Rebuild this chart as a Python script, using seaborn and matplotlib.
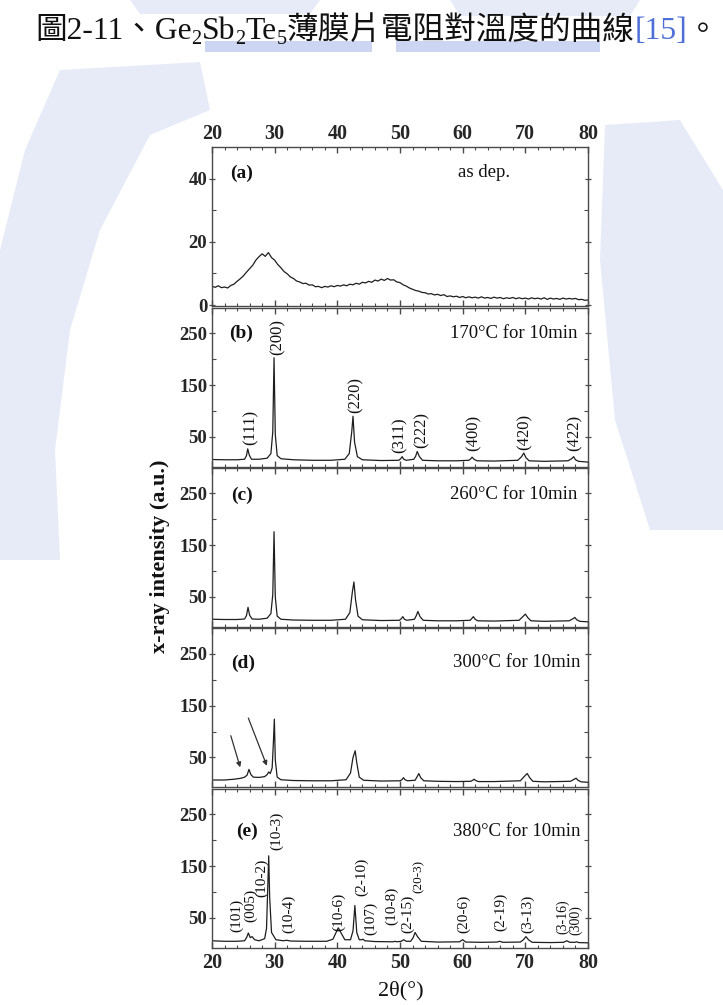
import numpy as np
import pandas as pd
import matplotlib
matplotlib.use("Agg")
import matplotlib.pyplot as plt
import seaborn as sns
from matplotlib.ticker import MultipleLocator, FixedLocator
from matplotlib.patches import Polygon, Rectangle

sns.set_style("ticks")
plt.rcParams["font.family"] = ["Liberation Serif", "Noto Sans CJK TC", "DejaVu Sans"]

# ---------------- data ----------------
# (a) as deposited
a_x = [20, 20.5, 21, 21.5, 22, 22.5, 23, 23.5, 24, 24.5, 25, 25.5, 26, 26.5, 27, 27.5, 28, 28.5, 29, 29.5,
       30, 30.5, 31, 31.5, 32, 32.5, 33, 33.5, 34, 34.5, 35, 35.5, 36, 36.5, 37, 37.5, 38, 38.5, 39, 39.5,
       40, 40.5, 41, 41.5, 42, 42.5, 43, 43.5, 44, 44.5, 45, 45.5, 46, 46.5, 47, 47.5, 48, 48.5, 49, 49.5,
       50, 50.5, 51, 51.5, 52, 52.5, 53, 53.5, 54, 54.5, 55, 55.5, 56, 56.5, 57, 57.5, 58, 58.5, 59, 59.5,
       60, 60.5, 61, 61.5, 62, 62.5, 63, 63.5, 64, 64.5, 65, 65.5, 66, 66.5, 67, 67.5, 68, 68.5, 69, 69.5,
       70, 70.5, 71, 71.5, 72, 72.5, 73, 73.5, 74, 74.5, 75, 75.5, 76, 76.5, 77, 77.5, 78, 78.5, 79, 79.5, 80]
a_y = [6.0, 5.6, 6.1, 5.5, 5.7, 5.4, 6.2, 6.6, 7.5, 8.3, 9.2, 10.4, 11.5, 12.6, 14.2, 15.3, 16.2, 15.4, 16.6, 15.0,
       14.2, 12.8, 11.8, 10.6, 9.9, 8.9, 8.4, 7.6, 7.3, 6.8, 6.9, 6.3, 6.4, 5.8, 5.9, 5.5, 5.9, 5.7, 6.1, 5.8,
       6.2, 6.0, 6.4, 6.1, 6.6, 6.4, 6.9, 6.6, 7.2, 7.0, 7.5, 7.2, 7.9, 7.6, 8.2, 7.8, 8.4, 7.9, 8.0, 7.3,
       7.1, 6.4, 6.0, 5.4, 5.0, 4.6, 4.4, 4.0, 3.9, 3.5, 3.6, 3.2, 3.4, 3.0, 3.3, 2.7, 2.9, 2.6, 2.8, 2.4,
       2.7, 2.3, 2.6, 2.3, 2.5, 2.2, 2.6, 2.2, 2.4, 2.1, 2.5, 2.2, 2.4, 2.0, 2.3, 2.1, 2.4, 2.0, 2.3, 2.0,
       2.2, 1.9, 2.3, 2.0, 2.2, 1.9, 2.3, 1.8, 2.2, 1.9, 2.1, 1.8, 2.2, 1.9, 2.1, 1.9, 2.1, 1.7, 1.8, 1.5, 1.6]

# (b) 170 C
b_x = [20, 22, 24, 25.2, 25.5, 25.7, 25.95, 26.3, 27.5, 28.8, 29.4, 29.7, 29.9, 30.1, 30.4, 31.0, 33, 36, 39,
       41.2, 41.9, 42.3, 42.5, 42.75, 43.2, 44, 47, 49.8, 50.1, 50.35, 50.6, 51.0, 52.2, 52.5, 52.75, 53.1,
       53.6, 56, 59, 61.0, 61.3, 61.5, 61.8, 62.3, 65, 68.8, 69.4, 69.75, 70.1, 70.6, 73, 76.8, 77.4, 77.7,
       78.0, 78.5, 80]
b_y = [6.5, 6, 6, 7, 14, 27, 15, 7, 7, 9, 18, 60, 203, 55, 14, 8, 6, 5, 5,
       7, 18, 60, 90, 40, 12, 6, 4.5, 5, 8, 12, 7, 5, 7, 13, 22, 12,
       5, 4, 4, 5, 8, 11, 7, 4, 3.5, 5, 12, 19, 10, 4, 3, 4, 8, 12,
       6, 3, 1.5]

# (c) 260 C
c_x = [20, 22, 24, 25.2, 25.5, 25.75, 26.0, 26.4, 27.5, 28.8, 29.4, 29.7, 29.9, 30.1, 30.4, 31.0, 33, 36, 39,
       41.3, 42.0, 42.4, 42.65, 42.9, 43.3, 44, 47, 49.9, 50.2, 50.45, 50.7, 51.1, 52.3, 52.6, 52.85, 53.2,
       53.7, 56, 59, 61.2, 61.5, 61.7, 62.0, 62.4, 65, 69.0, 69.6, 70.0, 70.4, 70.9, 73, 77.0, 77.6, 77.9,
       78.2, 78.7, 80]
c_y = [7, 6.5, 6.5, 7.5, 14, 30, 15, 7.5, 7, 9, 18, 55, 176, 50, 13, 7, 5.5, 5, 5,
       7, 20, 60, 79, 45, 13, 6, 4.5, 5, 8, 12, 7, 5, 7, 14, 22, 12,
       5, 4, 4, 5, 9, 12, 7, 4, 3.5, 5, 12, 17, 10, 4, 3, 4, 8, 10.5,
       6, 3, 2]

# (d) 300 C
d_x = [20, 22, 23.5, 24.4, 24.8, 25.2, 25.6, 25.9, 26.2, 26.6, 27.5, 28.4, 28.8, 29.05, 29.3, 29.6, 29.8,
       29.95, 30.1, 30.4, 31.0, 33, 36, 39, 41.4, 42.1, 42.5, 42.85, 43.1, 43.5, 44.2, 47, 50.0, 50.3, 50.55,
       50.8, 51.2, 52.4, 52.7, 53.0, 53.3, 53.8, 56, 59, 61.3, 61.6, 61.8, 62.1, 62.5, 65, 69.2, 69.8, 70.3,
       70.7, 71.2, 73, 77.2, 77.8, 78.1, 78.4, 78.9, 80]
d_y = [6.5, 6.5, 8, 9.5, 10.5, 12, 16, 27, 17, 12, 11.5, 13, 17, 22, 19, 30, 80,
       124, 45, 12, 7, 5.5, 5, 5, 7, 20, 50, 63, 40, 12, 6, 4.5, 5, 7, 11,
       7, 5, 6, 12, 19, 11, 5, 4, 3.5, 4, 6, 8, 5.5, 3.5, 3.5, 5, 13, 19,
       11, 4, 3, 4, 8, 10, 6, 3, 2]

# (e) 380 C
e_x = [20, 22, 24, 25.2, 25.55, 25.8, 26.1, 26.4, 26.8, 27.5, 28.4, 28.7, 28.9, 29.05, 29.2, 29.5, 30.2, 31.4,
       31.9, 32.5, 35, 38.3, 39.3, 39.8, 40.15, 40.6, 41.2, 42.1, 42.5, 42.8, 43.1, 43.5, 43.9, 44.1, 44.4,
       46, 48.9, 49.2, 49.5, 50.2, 50.6, 51.0, 51.7, 52.1, 52.4, 52.8, 53.4, 56, 59.5, 60.0, 60.5, 63, 65.5,
       65.9, 66.4, 69.2, 69.7, 70.1, 70.5, 71.1, 74, 76.1, 76.6, 77.1, 77.9, 78.2, 78.5, 80]
e_y = [6, 5, 5, 6, 13, 21, 12, 14, 8, 6, 10, 30, 110, 170, 90, 22, 8, 6,
       7, 5.5, 5, 5, 9, 22, 31, 21, 8, 8, 25, 74, 22, 8, 8, 9, 6,
       4.5, 4, 5, 4, 5, 8, 5, 5, 12, 22, 14, 5, 3.5, 4, 8, 3.5, 3, 3.5,
       5, 3, 3.5, 8, 14, 8, 3, 2.5, 3, 6, 3, 3, 4, 2.5, 2]

panel_tags = ["(a)", "(b)", "(c)", "(d)", "(e)"]
panel_conditions = ["as dep.", "170\u00b0C for 10min", "260\u00b0C for 10min",
                    "300\u00b0C for 10min", "380\u00b0C for 10min"]

b_labels = ["(111)", "(200)", "(220)", "(311)", "(222)", "(400)", "(420)", "(422)"]
b_label_x = [26.1, 30.5, 42.9, 50.0, 53.4, 61.8, 69.9, 77.8]
b_label_y = [34, 208, 96, 19, 28, 22, 25, 22]

e_labels = ["(101)", "(005)", "(10-2)", "(10-3)", "(10-4)", "(10-6)", "(2-10)", "(107)", "(10-8)",
            "(2-15)", "(20-3)", "(20-6)", "(2-19)", "(3-13)", "(3-16)", "(300)"]
e_label_x = [24.0, 26.2, 27.9, 30.25, 32.2, 40.2, 43.95, 45.3, 48.6, 51.15, 53.0, 60.2, 66.1, 70.35, 75.9, 78.0]
e_label_y = [22, 42, 90, 182, 21, 24, 92, 18, 37, 21, 98, 21, 24, 21, 20, 17]

xticks = [20, 30, 40, 50, 60, 70, 80]

# ---------------- figure ----------------
W, H = 723, 1005
fig = plt.figure(figsize=(W / 100, H / 100), dpi=100)
fig.patch.set_facecolor("white")


def px(x, y):
    return (x / W, 1 - y / H)


# faint background watermark (pale blue blocks)
wm = "#e7ebf8"
wm2 = "#ccd5f2"
wm_shapes = [
    [(60, 70), (200, 62), (210, 110), (150, 135), (100, 230), (70, 330), (55, 450), (60, 560), (0, 560),
     (0, 250), (25, 150)],
    [(605, 125), (680, 120), (723, 190), (723, 530), (650, 530), (615, 420), (600, 260)],
    [(130, 0), (320, 0), (310, 14), (140, 14)],
    [(450, 0), (640, 0), (630, 16), (460, 16)],
]
for pts in wm_shapes:
    fig.patches.append(Polygon([px(*p) for p in pts], closed=True, transform=fig.transFigure,
                               facecolor=wm, edgecolor="none", zorder=0))
for (x0, x1) in [(205, 372), (396, 600)]:
    fig.patches.append(Rectangle(px(x0, 52), (x1 - x0) / W, 11 / H, transform=fig.transFigure,
                                 facecolor=wm2, edgecolor="none", zorder=0))

left = 212 / W
width = 376 / W
tops = [147, 307.5, 467.5, 628, 788.5]
ph = 159.0

series = [(a_x, a_y), (b_x, b_y), (c_x, c_y), (d_x, d_y), (e_x, e_y)]
line_col = "#1e1e1e"
spine_col = "#4a4a4a"
axes = []
for i, (xs, ys) in enumerate(series):
    ax = fig.add_axes([left, 1 - (tops[i] + ph) / H, width, ph / H])
    axes.append(ax)
    df = pd.DataFrame({"two_theta": xs, "intensity": ys})
    sns.lineplot(data=df, x="two_theta", y="intensity", ax=ax, color=line_col,
                 linewidth=0.9, estimator=None, sort=False)
    ax.set_xlim(20, 80)
    ax.set_xlabel("")
    ax.set_ylabel("")
    for sp in ax.spines.values():
        sp.set_visible(True)
        sp.set_color(spine_col)
        sp.set_linewidth(1.0)
    ax.xaxis.set_major_locator(FixedLocator(xticks))
    ax.xaxis.set_minor_locator(MultipleLocator(2))
    ax.tick_params(axis="x", which="major", direction="in", top=True, bottom=True,
                   length=4.5, width=1.0, color=spine_col, labelsize=14.5, pad=4)
    ax.tick_params(axis="x", which="minor", direction="in", top=True, bottom=True,
                   length=2.5, width=0.8, color=spine_col)
    ax.tick_params(axis="y", which="major", direction="inout", left=True, right=True,
                   length=5, width=0.9, color=spine_col, labelsize=13.5, pad=1)
    ax.tick_params(axis="y", which="minor", direction="in", left=True, right=True,
                   length=3, width=0.8, color=spine_col)
    if i == 0:
        ax.set_ylim(-0.3, 50)
        ax.set_yticks([0, 20, 40])
        ax.yaxis.set_minor_locator(FixedLocator([10, 30]))
        ax.tick_params(axis="x", labeltop=True, labelbottom=False, pad=2)
    else:
        ax.set_ylim(-7, 300)
        ax.set_yticks([50, 150, 250])
        ax.yaxis.set_minor_locator(FixedLocator([100, 200]))
        ax.tick_params(axis="x", labeltop=False, labelbottom=(i == 4))
    for lab in ax.get_xticklabels():
        lab.set_fontweight("bold")
    for lab in ax.get_yticklabels():
        lab.set_fontweight("bold")
    ax.set_facecolor("white")

# panel annotations
tag_pos = [(0.048, 0.837), (0.045, 0.837), (0.05, 0.828), (0.05, 0.78), (0.064, 0.73)]
cond_pos = [(0.723, 0.837, "center"), (0.973, 0.837, "right"), (0.972, 0.828, "right"),
            (0.979, 0.78, "right"), (0.979, 0.73, "right")]
for i, ax in enumerate(axes):
    ax.text(tag_pos[i][0], tag_pos[i][1], panel_tags[i], transform=ax.transAxes,
            fontsize=14, fontweight="bold", ha="left", va="center", color="#111")
    cx, cy, ha = cond_pos[i]
    ax.text(cx, cy, panel_conditions[i], transform=ax.transAxes,
            fontsize=13.5, ha=ha, va="center", color="#111")

for s, x, y in zip(b_labels, b_label_x, b_label_y):
    axes[1].text(x, y, s, rotation=90, ha="center", va="bottom", fontsize=12, color="#111")
for s, x, y in zip(e_labels, e_label_x, e_label_y):
    fs = 9.5 if s == "(20-3)" else (10 if s in ("(3-16)", "(300)") else 11)
    axes[4].text(x, y, s, rotation=90, ha="center", va="bottom", fontsize=fs, color="#111")

# arrows in (d)
arrow_kw = dict(arrowstyle="-|>", color="#333", lw=0.9, mutation_scale=7, shrinkA=0, shrinkB=0)
axes[3].annotate("", xy=(24.5, 31), xytext=(23.0, 92), arrowprops=arrow_kw)
axes[3].annotate("", xy=(28.75, 34), xytext=(25.8, 126), arrowprops=arrow_kw)

# axis labels
fig.text(160 / W, 1 - 556 / H, "x-ray intensity (a.u.)", rotation=90, ha="center", va="center",
         fontsize=16, fontweight="bold", color="#111")
fig.text(401 / W, 1 - 991 / H, "2\u03b8(\u00b0)", ha="center", va="center", fontsize=16, color="#111")

# title line built from pieces
renderer = fig.canvas.get_renderer()
title_pieces = [("圖2-11、Ge", 22.8, 0, "#111"), ("2", 14.5, -5, "#111"), ("Sb", 22.8, 0, "#111"),
                ("2", 14.5, -5, "#111"), ("Te", 22.8, 0, "#111"), ("5", 14.5, -5, "#111"),
                ("薄膜片電阻對溫度的曲線", 22.8, 0, "#111"), ("[15]", 22.8, 0, "#4f6fd8"), ("。", 22.8, 0, "#111")]
xpix = 35.0
base = 39.0
for s, fs, dy, col in title_pieces:
    t = fig.text(xpix / W, 1 - (base - dy) / H, s, fontsize=fs, color=col, ha="left", va="baseline")
    bb = t.get_window_extent(renderer=renderer)
    xpix += bb.width

fig.savefig("out.png", dpi=100)
